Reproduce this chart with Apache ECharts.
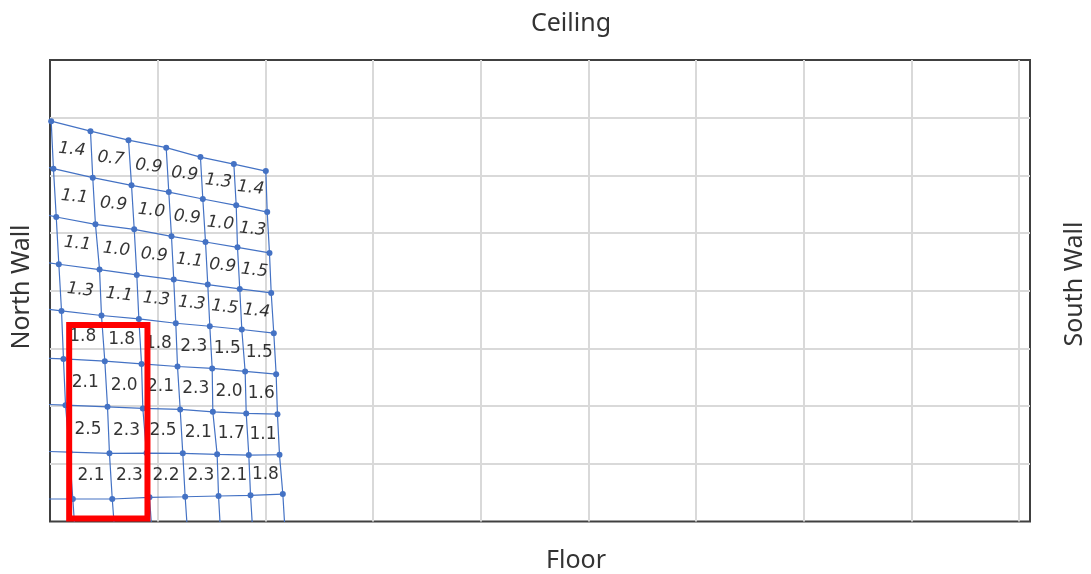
<!DOCTYPE html>
<html><head><meta charset="utf-8">
<script src="https://cdn.jsdelivr.net/npm/echarts@6/dist/echarts.min.js"></script>
<style>html,body{margin:0;padding:0;background:#fff}#c{width:1091px;height:574px}</style>
</head><body><div id="c"></div>
<script>
// Mesh node coordinates (rows top→bottom, columns left→right), in grid units
const meshX = [
 [0.011,0.376,0.729,1.079,1.397,1.707,2.004],
 [0.032,0.397,0.757,1.103,1.419,1.729,2.017],
 [0.058,0.422,0.782,1.128,1.444,1.741,2.038],
 [0.082,0.460,0.806,1.149,1.465,1.762,2.054],
 [0.107,0.478,0.825,1.168,1.484,1.781,2.078],
 [0.125,0.509,0.850,1.184,1.506,1.812,2.100],
 [0.144,0.534,0.862,1.209,1.512,1.822,2.112],
 [0.181,0.552,0.896,1.233,1.552,1.846,2.131],
 [0.212,0.578,0.924,1.255,1.565,1.862,2.162]
];
const meshY = [
 [6.940,6.767,6.611,6.480,6.317,6.196,6.074],
 [6.116,5.960,5.827,5.711,5.590,5.481,5.364],
 [5.278,5.152,5.065,4.944,4.845,4.753,4.655],
 [4.459,4.367,4.274,4.194,4.107,4.031,3.962],
 [3.650,3.571,3.512,3.437,3.385,3.328,3.264],
 [2.819,2.779,2.732,2.687,2.653,2.601,2.554],
 [2.017,1.988,1.960,1.943,1.901,1.874,1.861],
 [1.203,1.181,1.186,1.181,1.164,1.152,1.157],
 [0.390,0.390,0.419,0.429,0.442,0.454,0.476]
];
// mesh continues beyond the plot (clipped): extra node left of each row, below each column
const extLeftX = [-0.3,-0.3,-0.3,-0.3,-0.3,-0.3,-0.3,-0.3,-0.3];
const extLeftY = [7.08,6.26,5.43,4.56,3.74,2.85,2.05,1.23,0.39];
const extBottomX = [0.24,0.61,0.955,1.285,1.59,1.89,2.19];
const extBottomY = [-0.4,-0.4,-0.4,-0.4,-0.4,-0.4,-0.4];
// Cell values (8 rows x 6 columns)
const cellValues = [
 [1.4,0.7,0.9,0.9,1.3,1.4],
 [1.1,0.9,1.0,0.9,1.0,1.3],
 [1.1,1.0,0.9,1.1,0.9,1.5],
 [1.3,1.1,1.3,1.3,1.5,1.4],
 [1.8,1.8,1.8,2.3,1.5,1.5],
 [2.1,2.0,2.1,2.3,2.0,1.6],
 [2.5,2.3,2.5,2.1,1.7,1.1],
 [2.1,2.3,2.2,2.3,2.1,1.8]
];
// highlighted region (red frame)
const highlightX = [0.178, 0.905];
const highlightY = [0.05, 3.408];

const blue = '#4472C4';
const series = [];
for (let r = 0; r < meshX.length; r++) {
  const d = [{value:[extLeftX[r], extLeftY[r]], symbol:'none'}];
  for (let c = 0; c < meshX[r].length; c++) d.push([meshX[r][c], meshY[r][c]]);
  series.push({type:'line', data:d, symbol:'circle', symbolSize:6, showSymbol:true,
    itemStyle:{color:blue}, lineStyle:{color:blue, width:1.2}, z:3, clip:true, silent:true});
}
for (let c = 0; c < meshX[0].length; c++) {
  const d = [];
  for (let r = 0; r < meshX.length; r++) d.push([meshX[r][c], meshY[r][c]]);
  d.push([extBottomX[c], extBottomY[c]]);
  series.push({type:'line', data:d, showSymbol:false, symbol:'none',
    lineStyle:{color:blue, width:1.2}, z:2, clip:true, silent:true});
}
function cellData(r0, r1) {
  const out = [];
  for (let r = r0; r < r1; r++) for (let c = 0; c < 6; c++) {
    const cx = (meshX[r][c]+meshX[r][c+1]+meshX[r+1][c]+meshX[r+1][c+1])/4;
    const cy = (meshY[r][c]+meshY[r][c+1]+meshY[r+1][c]+meshY[r+1][c+1])/4;
    out.push([cx, cy, cellValues[r][c]]);
  }
  return out;
}
series.push({type:'scatter', data:cellData(0,4), symbolSize:1, itemStyle:{color:'rgba(0,0,0,0)'}, z:5, silent:true,
  label:{show:true, position:'inside', formatter:p=>p.value[2].toFixed(1), fontFamily:'DejaVu Sans', fontSize:17, fontStyle:'italic', color:'#000', rotate:-6}});
series.push({type:'scatter', data:cellData(4,8), symbolSize:1, itemStyle:{color:'rgba(0,0,0,0)'}, z:5, silent:true,
  label:{show:true, position:'inside', formatter:p=>p.value[2].toFixed(1), fontFamily:'DejaVu Sans', fontSize:17, color:'#000'}});
series.push({type:'line', showSymbol:false, symbol:'none', z:10, silent:true,
  data:[[highlightX[0],highlightY[1]],[highlightX[1],highlightY[1]],[highlightX[1],highlightY[0]],[highlightX[0],highlightY[0]],[highlightX[0],highlightY[1]]],
  lineStyle:{color:'#FF0000', width:6, join:'miter', cap:'square'}});

const chart = echarts.init(document.getElementById('c'));
const tf = '25px "Noto Sans", sans-serif';
chart.setOption({
  animation:false,
  grid:{left:50, right:61, top:60, bottom:52.5, show:true, borderColor:'#404040', borderWidth:2, backgroundColor:'transparent'},
  xAxis:{type:'value', min:0, max:9.1, interval:1, axisLabel:{show:false}, axisTick:{show:false}, axisLine:{show:false},
    splitLine:{show:true, showMinLine:false, showMaxLine:false, lineStyle:{color:'#d9d9d9', width:2}}},
  yAxis:{type:'value', min:0, max:8, interval:1, axisLabel:{show:false}, axisTick:{show:false}, axisLine:{show:false},
    splitLine:{show:true, showMinLine:false, showMaxLine:false, lineStyle:{color:'#d9d9d9', width:2}}},
  graphic:[
    {type:'text', x:571, y:24, style:{text:'Ceiling', font:tf, fill:'#333', textAlign:'center', textVerticalAlign:'middle'}},
    {type:'text', x:576, y:561, style:{text:'Floor', font:tf, fill:'#333', textAlign:'center', textVerticalAlign:'middle'}},
    {type:'text', x:22, y:287, rotation:Math.PI/2, style:{text:'North Wall', font:tf, fill:'#333', textAlign:'center', textVerticalAlign:'middle'}},
    {type:'text', x:1075, y:284, rotation:Math.PI/2, style:{text:'South Wall', font:tf, fill:'#333', textAlign:'center', textVerticalAlign:'middle'}}
  ],
  series:series
});
</script></body></html>
